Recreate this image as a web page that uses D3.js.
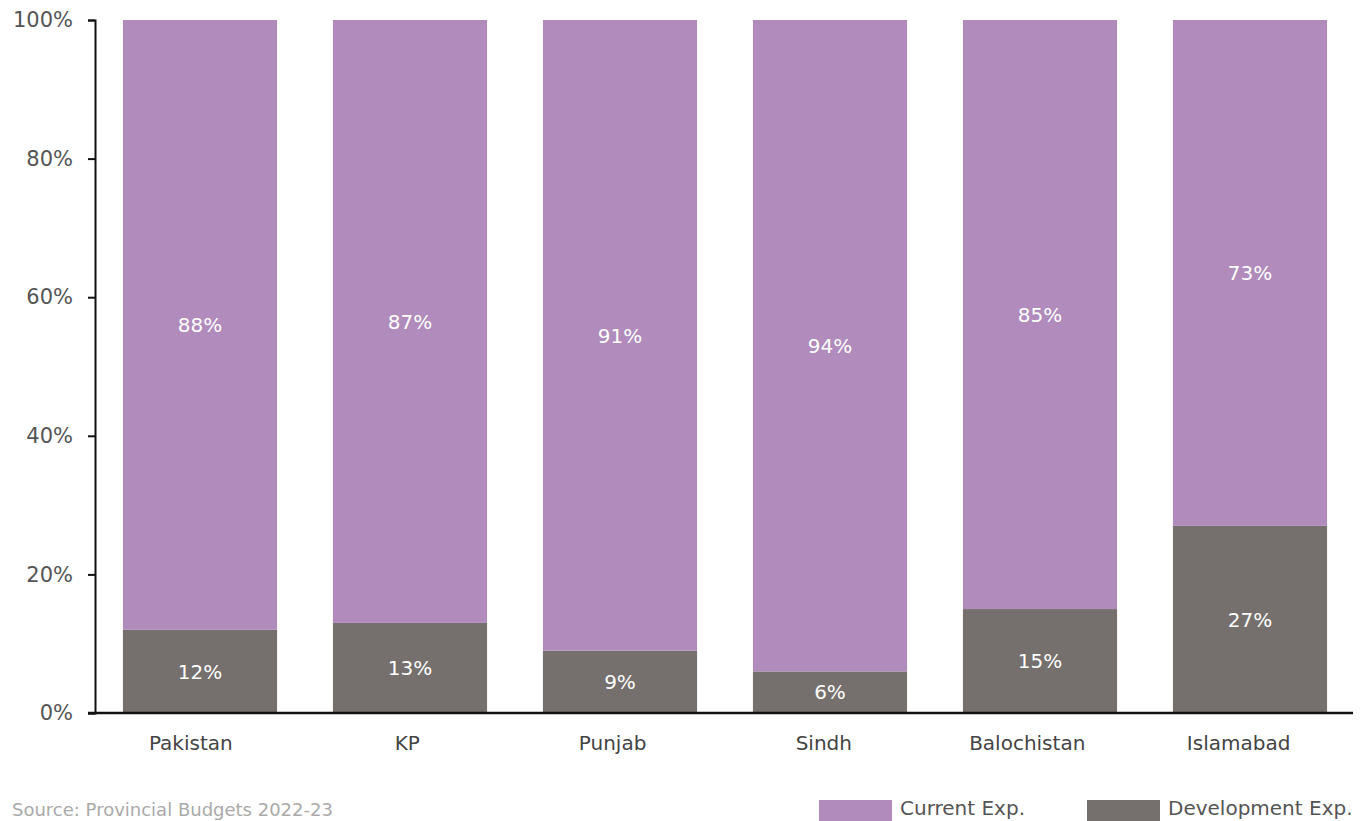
<!DOCTYPE html>
<html>
<head>
<meta charset="utf-8">
<script src="https://cdn.jsdelivr.net/npm/d3@7"></script>
<style>
  html, body { margin: 0; padding: 0; background: #fff; }
  svg { display: block; font-family: "DejaVu Sans", "Noto Sans", sans-serif; }
</style>
</head>
<body>
<svg id="chart" width="1362" height="821"></svg>
<script>
// Share of spending by region, 2022-23
const regions = ["Pakistan", "KP", "Punjab", "Sindh", "Balochistan", "Islamabad"];
const developmentExp = [12, 13, 9, 6, 15, 27];
const currentExp = [88, 87, 91, 94, 85, 73];
const yTicks = [0, 20, 40, 60, 80, 100];
const seriesNames = ["Current Exp.", "Development Exp."];
const seriesColors = ["#b08bbb", "#75706e"];

const svg = d3.select("#chart");

const x = d3.scaleBand()
  .domain(regions)
  .range([95, 1355])
  .paddingInner(0.266)
  .paddingOuter(0.133);

const y = d3.scaleLinear()
  .domain([0, 100])
  .range([713, 20]);

const rows = regions.map((r, i) => ({
  region: r,
  dev: developmentExp[i],
  cur: currentExp[i]
}));

// bars: development at the bottom, current stacked above
const g = svg.append("g");
rows.forEach(d => {
  g.append("rect")
    .attr("x", x(d.region))
    .attr("width", x.bandwidth())
    .attr("y", y(d.dev))
    .attr("height", y(0) - y(d.dev))
    .attr("fill", seriesColors[1]);
  g.append("rect")
    .attr("x", x(d.region))
    .attr("width", x.bandwidth())
    .attr("y", y(d.dev + d.cur))
    .attr("height", y(d.dev) - y(d.dev + d.cur))
    .attr("fill", seriesColors[0]);
  // segment labels
  g.append("text")
    .attr("x", x(d.region) + x.bandwidth() / 2)
    .attr("y", (y(0) + y(d.dev)) / 2)
    .attr("dy", "0.36em")
    .attr("text-anchor", "middle")
    .attr("fill", "#fff")
    .style("font-size", "20px")
    .text(d.dev + "%");
  g.append("text")
    .attr("x", x(d.region) + x.bandwidth() / 2)
    .attr("y", (y(d.dev) + y(d.dev + d.cur)) / 2)
    .attr("dy", "0.36em")
    .attr("text-anchor", "middle")
    .attr("fill", "#fff")
    .style("font-size", "20px")
    .text(d.cur + "%");
});

// y axis
const yAxis = svg.append("g")
  .attr("transform", "translate(95,0)")
  .call(d3.axisLeft(y).tickValues(yTicks).tickSize(7).tickPadding(15)
    .tickFormat(d => d + "%"));
yAxis.select(".domain").attr("stroke", "#111").attr("stroke-width", 2);
yAxis.selectAll(".tick line").attr("stroke", "#111").attr("stroke-width", 2);
yAxis.selectAll(".tick text")
  .attr("fill", "#555")
  .style("font-size", "21px")
  .style("font-family", "'DejaVu Sans', sans-serif");

// x axis
const xAxis = svg.append("g")
  .attr("transform", "translate(0,713)")
  .call(d3.axisBottom(x).tickSize(0).tickPadding(23));
xAxis.select(".domain").remove();
xAxis.append("line")
  .attr("x1", 88).attr("x2", 1353)
  .attr("stroke", "#111").attr("stroke-width", 2.5);
xAxis.selectAll(".tick text")
  .attr("fill", "#444")
  .style("font-size", "20px")
  .style("font-family", "'DejaVu Sans', sans-serif")
  .attr("dx", function () { return -0.11 * this.getComputedTextLength(); });

// source note
svg.append("text")
  .attr("x", 12).attr("y", 816)
  .attr("fill", "#aaa")
  .style("font-size", "18px")
  .text("Source: Provincial Budgets 2022-23");

// legend
const legendX = [819, 1087];
const legend = svg.append("g");
seriesNames.forEach((name, i) => {
  legend.append("rect")
    .attr("x", legendX[i]).attr("y", 800)
    .attr("width", 73).attr("height", 21)
    .attr("fill", seriesColors[i]);
  legend.append("text")
    .attr("x", legendX[i] + 81).attr("y", 815)
    .attr("fill", "#555")
    .style("font-size", "20px")
    .text(name);
});
</script>
</body>
</html>
